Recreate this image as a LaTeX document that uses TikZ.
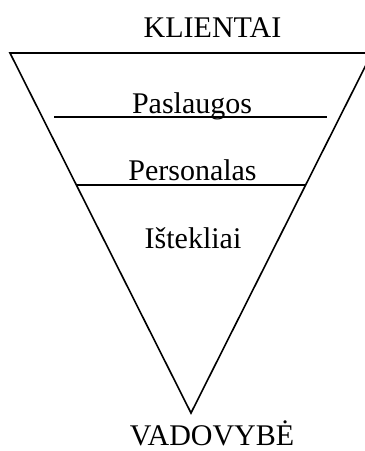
\documentclass[tikz,border=0pt]{standalone}
\usepackage{fontspec}
\setmainfont{Liberation Serif}
\usepackage{tikz}
\usetikzlibrary{calc}

\tikzset{
  lbl/.style={anchor=base,inner sep=0pt,font=\fontsize{30}{35}\selectfont},
  edge/.style={line width=1.6pt},
  bar/.style={line width=1.4pt}
}

\begin{document}
\begin{tikzpicture}[x=1pt,y=-1pt]
    \useasboundingbox (0,0) rectangle (365,451);
    \clip (0,0) rectangle (365,451);
    \coordinate (tl) at (10,53);
    \coordinate (tr) at (372,53);
    \coordinate (apex) at (191,413);
    \draw[edge,line join=miter] (tl) -- (tr) -- (apex) -- cycle;
    \coordinate (p1) at (54,117);
    \coordinate (p2) at (327,117);
    \draw[bar] (p1) -- (p2);
    \coordinate (q1) at ($(tl)!0.3667!(apex)$);
    \coordinate (q2) at ($(tr)!0.3667!(apex)$);
    \draw[bar] (q1) -- (q2);
    \node[lbl] (klientai) at (212.5,37) {KLIENTAI};
    \node[lbl] (paslaugos) at (192,113) {Paslaugos};
    \node[lbl] (personalas) at (192.5,180) {Personalas};
    \node[lbl] (istekliai) at (193,248) {Ištekliai};
    \node[lbl] (vadovybe) at (212,445) {VADOVYBĖ};
\end{tikzpicture}
\end{document}
